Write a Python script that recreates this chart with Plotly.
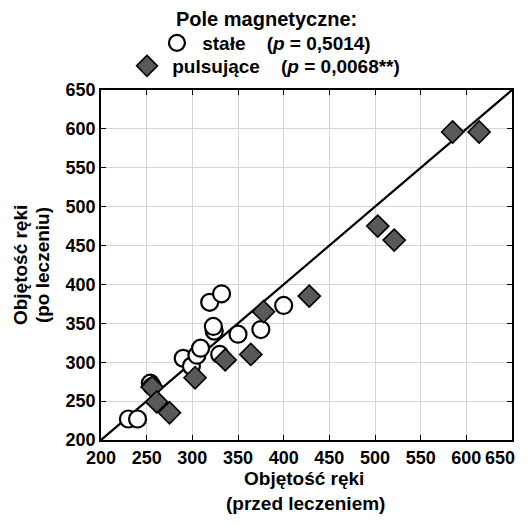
import plotly.graph_objects as go

# stałe (static field) group
stale_x = [230, 240, 254, 256, 290, 299, 305, 309, 330, 324, 323, 319, 332, 350, 375, 400]
stale_y = [227, 227, 273, 269, 305, 295, 309, 318, 310, 340, 346, 377, 388, 336, 342, 373]
# pulsujące (pulsed field) group
puls_x = [614, 585, 503, 521, 428, 378, 364, 336, 303, 256, 261, 275]
puls_y = [596, 596, 475, 457, 385, 365, 310, 303, 280, 268, 249, 235]

ident = [200, 650]
ticks = [200, 250, 300, 350, 400, 450, 500, 550, 600, 650]

FONT = "Liberation Sans, Arial, sans-serif"
NB = "\u00a0"

W, H = 528, 525
L, R, T, B = 101, 15.5, 90, 85
pw, ph = W - L - R, H - T - B

def px2paper(px):
    return (px - L) / pw

def py2paper(py):
    return (H - B - py) / ph

fig = go.Figure()
fig.add_trace(go.Scatter(x=ident, y=ident, mode="lines",
                         line=dict(color="black", width=2.2),
                         showlegend=False, hoverinfo="skip"))
fig.add_trace(go.Scatter(x=stale_x, y=stale_y, mode="markers",
                         name="<b>" + NB + "stałe" + NB * 4 + "(<i>p</i> = 0,5014)</b>",
                         marker=dict(symbol="circle", size=17, color="white",
                                     line=dict(color="black", width=2.2)),
                         legend="legend"))
fig.add_trace(go.Scatter(x=puls_x, y=puls_y, mode="markers",
                         name="<b>" + NB + "pulsujące" + NB * 4 + "(<i>p</i> = 0,0068**)</b>",
                         marker=dict(symbol="diamond", size=17, color="#595959",
                                     line=dict(color="black", width=1.6)),
                         legend="legend2"))
# invisible helper so the overlay axis (carrying the last x label) is drawn
fig.add_trace(go.Scatter(x=[ticks[-1]], y=[ticks[-1]], xaxis="x2", yaxis="y",
                         mode="markers", marker=dict(opacity=0),
                         showlegend=False, hoverinfo="skip"))

tickfont = dict(family=FONT, size=18, color="black", weight="bold")
axis_common = dict(range=[200, 650], tickvals=ticks,
                   showgrid=True, gridcolor="#d4d4d4", gridwidth=1,
                   zeroline=False, showline=True, linecolor="black", linewidth=1.8,
                   mirror="ticks", ticks="inside", ticklen=5, tickcolor="black",
                   tickfont=tickfont)

xticktext = [str(t) for t in ticks]
xticktext[-1] = ""
yticktext = [str(t) for t in ticks]

fig.update_layout(
    width=W, height=H,
    margin=dict(l=L, r=R, t=T, b=B, autoexpand=False),
    paper_bgcolor="white", plot_bgcolor="white",
    xaxis=dict(**axis_common, ticktext=xticktext),
    xaxis2=dict(range=[200, 650], overlaying="x", anchor="y", side="bottom",
                tickvals=[ticks[-1]], ticktext=[str(ticks[-1])], ticklabelshift=-12,
                showgrid=False, zeroline=False,
                showline=True, linewidth=1.8, linecolor="rgba(0,0,0,0)",
                ticks="inside", ticklen=5, tickcolor="rgba(0,0,0,0)",
                tickfont=tickfont),
    yaxis=dict(**axis_common, ticktext=yticktext),
    legend=dict(x=px2paper(179 - 22), y=py2paper(43.0), xanchor="left", yanchor="middle",
                font=dict(family=FONT, size=19, color="black"),
                bgcolor="rgba(0,0,0,0)", itemclick=False),
    legend2=dict(x=px2paper(149 - 22), y=py2paper(66.0), xanchor="left", yanchor="middle",
                 font=dict(family=FONT, size=19, color="black"),
                 bgcolor="rgba(0,0,0,0)", itemclick=False),
    annotations=[
        dict(text="<b>Pole magnetyczne:</b>", x=px2paper(267), y=py2paper(18.5),
             xref="paper", yref="paper", xanchor="center", yanchor="middle",
             showarrow=False, font=dict(family=FONT, size=20, color="black")),
        dict(text="<b>Objętość ręki</b>", x=px2paper(304), y=py2paper(478),
             xref="paper", yref="paper", xanchor="center", yanchor="middle",
             showarrow=False, font=dict(family=FONT, size=19, color="black")),
        dict(text="<b>(przed leczeniem)</b>", x=px2paper(306), y=py2paper(503),
             xref="paper", yref="paper", xanchor="center", yanchor="middle",
             showarrow=False, font=dict(family=FONT, size=19, color="black")),
        dict(text="<b>Objętość ręki</b>", x=px2paper(20), y=py2paper(265),
             xref="paper", yref="paper", xanchor="center", yanchor="middle",
             textangle=-90, showarrow=False, font=dict(family=FONT, size=19, color="black")),
        dict(text="<b>(po leczeniu)</b>", x=px2paper(42), y=py2paper(265),
             xref="paper", yref="paper", xanchor="center", yanchor="middle",
             textangle=-90, showarrow=False, font=dict(family=FONT, size=19, color="black")),
    ],
)

fig.write_html("out.html", config={"displayModeBar": False},
               post_script="document.body.style.margin='0';document.body.style.overflow='hidden';")
